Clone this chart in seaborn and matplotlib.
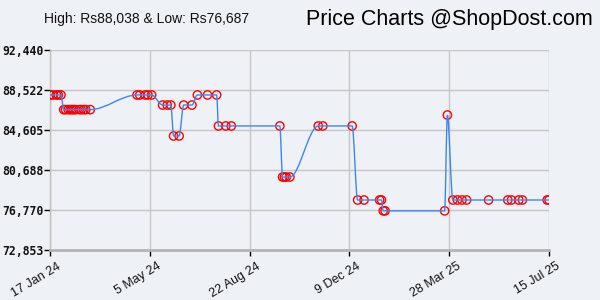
import matplotlib
matplotlib.use("Agg")
import numpy as np
import pandas as pd
import seaborn as sns
import matplotlib.pyplot as plt
import matplotlib.dates as mdates
from matplotlib.path import Path
from matplotlib.patches import PathPatch
from matplotlib.transforms import ScaledTranslation

# ---- data ----
dates = [
    "2024-01-17", "2024-01-20", "2024-01-24", "2024-01-26", "2024-01-29",
    "2024-02-01", "2024-02-03", "2024-02-06", "2024-02-08", "2024-02-10",
    "2024-02-12", "2024-02-14", "2024-02-18", "2024-02-20", "2024-02-23",
    "2024-02-25", "2024-03-01",
    "2024-04-21", "2024-04-24", "2024-04-30", "2024-05-03", "2024-05-07",
    "2024-05-19", "2024-05-24", "2024-05-28",
    "2024-05-31", "2024-06-06",
    "2024-06-11", "2024-06-20",
    "2024-06-26", "2024-07-07", "2024-07-17",
    "2024-07-19", "2024-07-27", "2024-08-02",
    "2024-09-24",
    "2024-09-27", "2024-09-29", "2024-10-01", "2024-10-05",
    "2024-11-05", "2024-11-10", "2024-12-12",
    "2024-12-18", "2024-12-25", "2025-01-11", "2025-01-13",
    "2025-01-15", "2025-01-17", "2025-03-23",
    "2025-03-26",
    "2025-04-01", "2025-04-06", "2025-04-11", "2025-04-16", "2025-05-10",
    "2025-05-31", "2025-06-04", "2025-06-12", "2025-06-16", "2025-07-13",
    "2025-07-15",
]
prices = [
    88038, 88038, 88038, 88038, 88038,
    86600, 86600, 86600, 86600, 86600,
    86600, 86600, 86600, 86600, 86600,
    86600, 86600,
    88038, 88038, 88038, 88038, 88038,
    87050, 87050, 87050,
    84020, 84020,
    87050, 87050,
    88038, 88038, 88038,
    85000, 85000, 85000,
    85000,
    80000, 80000, 80000, 80000,
    85000, 85000, 85000,
    77750, 77750, 77750, 77750,
    76687, 76687, 76687,
    86070,
    77750, 77750, 77750, 77750, 77750,
    77750, 77750, 77750, 77750, 77750,
    77750,
]
y_ticks = [72853, 76770, 80688, 84605, 88522, 92440]
x_tick_dates = ["2024-01-17", "2024-05-05", "2024-08-22",
                "2024-12-09", "2025-03-28", "2025-07-15"]
x_tick_labels = ["17 Jan 24", "5 May 24", "22 Aug 24",
                 "9 Dec 24", "28 Mar 25", "15 Jul 25"]
title_left = "High: Rs88,038 & Low: Rs76,687"
title_right = "Price Charts @ShopDost.com"

df = pd.DataFrame({"date": pd.to_datetime(dates), "price": prices})

# ---- style ----
bg = "#eef1f5"
sns.set_style("white")
plt.rcParams["font.family"] = ["Liberation Sans", "DejaVu Sans"]

fig = plt.figure(figsize=(6, 3), dpi=100, facecolor=bg)
ax = fig.add_axes([50 / 600, 50 / 300, 499 / 600, 200 / 300])
ax.set_facecolor(bg)

# smoothed line (monotone cubic Bezier through the data points)
xn = mdates.date2num(df["date"])
yv = df["price"].to_numpy(dtype=float)
h = np.diff(xn)
d = np.diff(yv) / h
m = np.zeros_like(yv)
m[0], m[-1] = d[0], d[-1]
for k in range(1, len(yv) - 1):
    if d[k - 1] * d[k] > 0:
        w1 = 2 * h[k] + h[k - 1]
        w2 = h[k] + 2 * h[k - 1]
        m[k] = (w1 + w2) / (w1 / d[k - 1] + w2 / d[k])
verts = [(xn[0], yv[0])]
codes = [Path.MOVETO]
for k in range(len(h)):
    verts += [(xn[k] + h[k] / 3, yv[k] + m[k] * h[k] / 3),
              (xn[k + 1] - h[k] / 3, yv[k + 1] - m[k + 1] * h[k] / 3),
              (xn[k + 1], yv[k + 1])]
    codes += [Path.CURVE4] * 3

sns.scatterplot(data=df, x="date", y="price", ax=ax, marker="o", s=36,
                color="red", linewidth=1.0, zorder=3)
pts = ax.collections[-1]
pts.set_facecolor("none")
pts.set_edgecolor("#ff0000")
ax.add_patch(PathPatch(Path(verts, codes), fill=False, edgecolor="#3d86f0",
                       linewidth=1.0, zorder=4))

# axes
ax.set_xlim(pd.Timestamp(x_tick_dates[0]), pd.Timestamp(x_tick_dates[-1]))
ax.set_ylim(y_ticks[0], y_ticks[-1])
ax.set_xlabel("")
ax.set_ylabel("")
ax.grid(True, color="#c6c6c6", linewidth=1.0)
ax.tick_params(axis="x", length=4, width=1, color="#000000",
               direction="out", pad=2, bottom=True)
ax.tick_params(axis="y", length=4, width=1, color="#000000",
               direction="out", pad=0.5, left=True)
ax.set_yticks(y_ticks)
ax.set_yticklabels([f"{v:,}" for v in y_ticks], fontfamily="DejaVu Sans Mono",
                   fontweight="bold", fontsize=8.3, color="#111111")
ax.set_xticks(pd.to_datetime(x_tick_dates))
ax.set_xticklabels(x_tick_labels, rotation=31, ha="right",
                   rotation_mode="anchor", fontsize=9, color="#111111")
shift = ScaledTranslation(7 / 100, -2 / 100, fig.dpi_scale_trans)
for lab in ax.get_xticklabels():
    lab.set_transform(lab.get_transform() + shift)
for s in ["top", "right"]:
    ax.spines[s].set_visible(False)
ax.spines["left"].set_color("#c0c0c0")
ax.spines["left"].set_linewidth(1.0)
ax.spines["bottom"].set_color("#b4b4b4")
ax.spines["bottom"].set_linewidth(2.0)

fig.text(44 / 600, 1 - 19 / 300, title_left, fontsize=10, color="#111111",
         va="center", ha="left")
fig.text(593 / 600, 1 - 19 / 300, title_right, fontsize=15.5, color="#000000",
         va="center", ha="right")

fig.savefig("out.png", dpi=100, facecolor=bg)
